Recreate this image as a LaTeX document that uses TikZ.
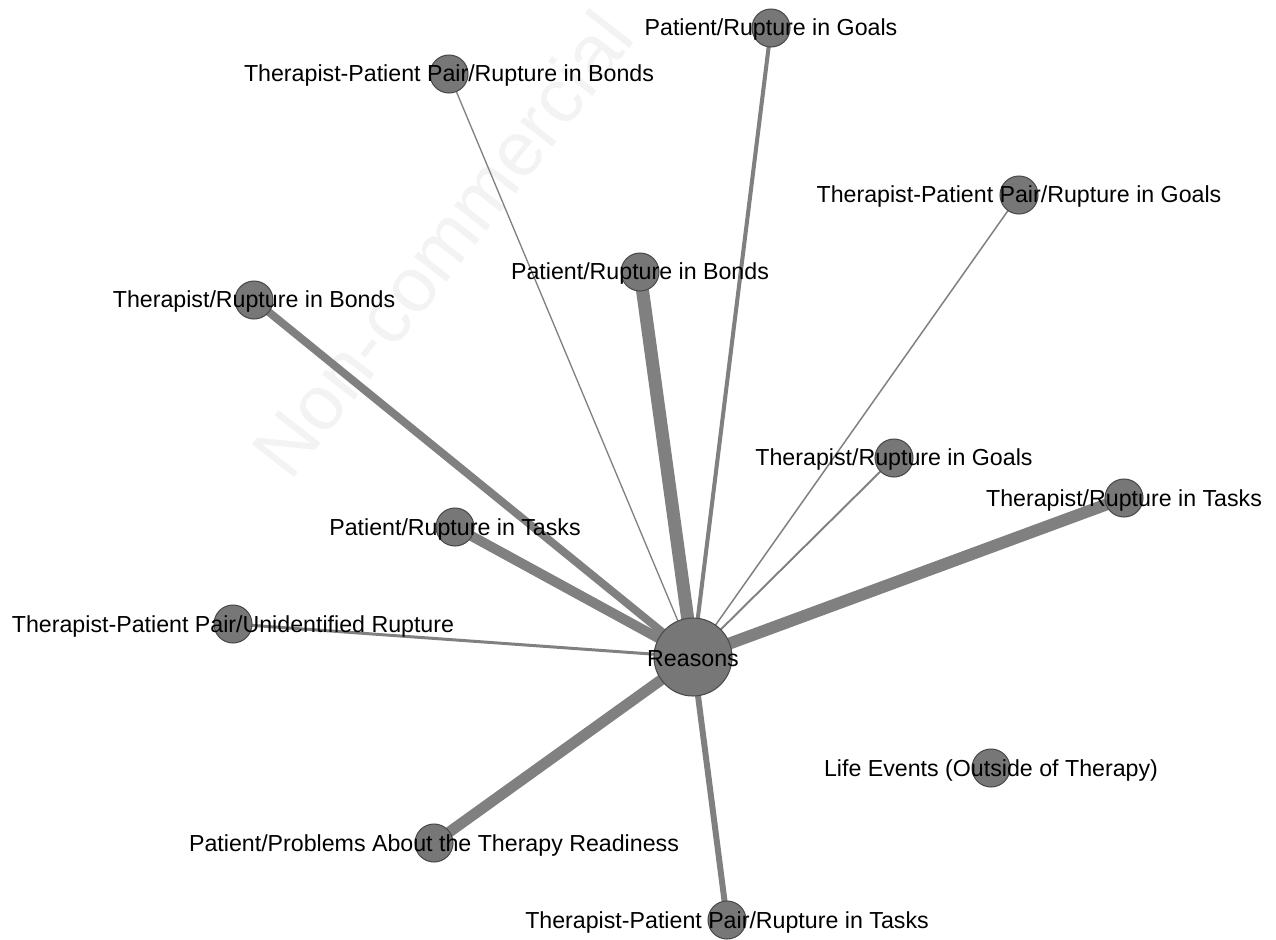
\documentclass[tikz,border=0pt]{standalone}
\usepackage{fontspec}
\setmainfont{Liberation Sans}
\usepackage{xcolor}
\usepackage{tikz}
\usetikzlibrary{positioning}
\definecolor{nodegray}{HTML}{777777}
\definecolor{rimgray}{HTML}{4A4A4A}
\definecolor{edgegray}{HTML}{808080}
\definecolor{markgray}{HTML}{F3F3F3}
\pgfdeclarelayer{bg}
\pgfsetlayers{bg,main}

\begin{document}
\begin{tikzpicture}[
  x=0.02cm, y=-0.02cm,
  vert/.style={circle,draw=rimgray,line width=0.6pt,fill=nodegray,
    minimum size=0.76cm,inner sep=0pt},
  hub/.style={vert,minimum size=1.56cm},
  lab/.style={font=\fontsize{13.2}{15}\selectfont,text=black,inner sep=0pt,yshift=-0.04cm},
  link/.style={draw=edgegray,line cap=butt}
]
\useasboundingbox (0,0) rectangle (1276,940);

\node[hub,label={[lab]center:Reasons}] (reasons) at (693,657) {};
\node[vert,label={[lab]center:Patient/Rupture in Goals}] (ptgoals) at (771,28) {};
\node[vert,label={[lab]center:Therapist-Patient Pair/Rupture in Bonds}] (tpbonds) at (449,74) {};
\node[vert,label={[lab]center:Therapist-Patient Pair/Rupture in Goals}] (tpgoals) at (1019,195) {};
\node[vert,label={[lab]center:Patient/Rupture in Bonds}] (ptbonds) at (640,272) {};
\node[vert,label={[lab]center:Therapist/Rupture in Bonds}] (thbonds) at (254,300) {};
\node[vert,label={[lab]center:Therapist/Rupture in Goals}] (thgoals) at (894,458) {};
\node[vert,label={[lab]center:Therapist/Rupture in Tasks}] (thtasks) at (1124,498) {};
\node[vert,label={[lab]center:Patient/Rupture in Tasks}] (pttasks) at (455,527) {};
\node[vert,label={[lab]center:Therapist-Patient Pair/Unidentified Rupture}] (tpunid) at (233,624) {};
\node[vert,label={[lab]center:Life Events (Outside of Therapy)}] (life) at (991,768) {};
\node[vert,label={[lab]center:Patient/Problems About the Therapy Readiness}] (ptready) at (434,843) {};
\node[vert,label={[lab]center:Therapist-Patient Pair/Rupture in Tasks}] (tptasks) at (727,920) {};

\begin{pgfonlayer}{bg}
\node[rotate=52,text=markgray,font=\fontsize{44}{48}\selectfont] (mark) at (442,244) {Non-commercial};
\draw[link,line width=7.4pt] (reasons.center)--(ptbonds.center);
\draw[link,line width=6.8pt] (reasons.center)--(thtasks.center);
\draw[link,line width=6.2pt] (reasons.center)--(ptready.center);
\draw[link,line width=5.7pt] (reasons.center)--(pttasks.center);
\draw[link,line width=4.5pt] (reasons.center)--(thbonds.center);
\draw[link,line width=3.4pt] (reasons.center)--(tptasks.center);
\draw[link,line width=2.3pt] (reasons.center)--(ptgoals.center);
\draw[link,line width=1.7pt] (reasons.center)--(tpunid.center);
\draw[link,line width=1.1pt] (reasons.center)--(thgoals.center);
\draw[link,line width=0.85pt] (reasons.center)--(tpgoals.center);
\draw[link,line width=0.75pt] (reasons.center)--(tpbonds.center);
\end{pgfonlayer}
\end{tikzpicture}
\end{document}
